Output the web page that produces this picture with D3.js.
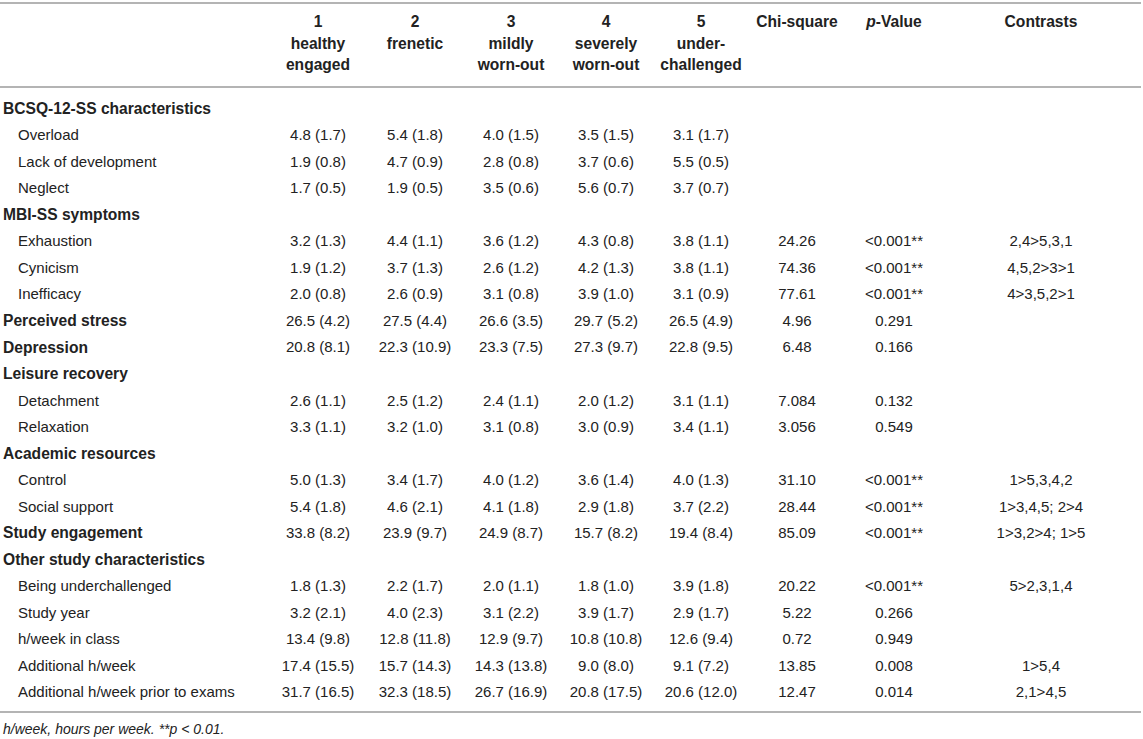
<!DOCTYPE html>
<html>
<head>
<meta charset="utf-8">
<script src="https://cdn.jsdelivr.net/npm/d3@7"></script>
<style>
  html, body { margin: 0; padding: 0; background: #fff; }
  svg { display: block; }
  text { font-family: "Liberation Sans", Arial, Helvetica, sans-serif; fill: #222; }
</style>
</head>
<body>
<svg id="chart" width="1143" height="739"></svg>
<script>
// ---------- data ----------
const rowLabels = ["BCSQ-12-SS characteristics","Overload","Lack of development","Neglect","MBI-SS symptoms","Exhaustion","Cynicism","Inefficacy","Perceived stress","Depression","Leisure recovery","Detachment","Relaxation","Academic resources","Control","Social support","Study engagement","Other study characteristics","Being underchallenged","Study year","h/week in class","Additional h/week","Additional h/week prior to exams"];
// 0 = bold row (section header or top-level variable), 1 = indented sub-row
const rowLevel = [0,1,1,1,0,1,1,1,0,0,0,1,1,0,1,1,0,0,1,1,1,1,1];

const clusterNumbers = ["1","2","3","4","5"];
const clusterNames = [["healthy","engaged"],["frenetic"],["mildly","worn-out"],["severely","worn-out"],["under-","challenged"]];

const mean1 = [null,4.8,1.9,1.7,null,3.2,1.9,2.0,26.5,20.8,null,2.6,3.3,null,5.0,5.4,33.8,null,1.8,3.2,13.4,17.4,31.7];
const sd1   = [null,1.7,0.8,0.5,null,1.3,1.2,0.8,4.2,8.1,null,1.1,1.1,null,1.3,1.8,8.2,null,1.3,2.1,9.8,15.5,16.5];
const mean2 = [null,5.4,4.7,1.9,null,4.4,3.7,2.6,27.5,22.3,null,2.5,3.2,null,3.4,4.6,23.9,null,2.2,4.0,12.8,15.7,32.3];
const sd2   = [null,1.8,0.9,0.5,null,1.1,1.3,0.9,4.4,10.9,null,1.2,1.0,null,1.7,2.1,9.7,null,1.7,2.3,11.8,14.3,18.5];
const mean3 = [null,4.0,2.8,3.5,null,3.6,2.6,3.1,26.6,23.3,null,2.4,3.1,null,4.0,4.1,24.9,null,2.0,3.1,12.9,14.3,26.7];
const sd3   = [null,1.5,0.8,0.6,null,1.2,1.2,0.8,3.5,7.5,null,1.1,0.8,null,1.2,1.8,8.7,null,1.1,2.2,9.7,13.8,16.9];
const mean4 = [null,3.5,3.7,5.6,null,4.3,4.2,3.9,29.7,27.3,null,2.0,3.0,null,3.6,2.9,15.7,null,1.8,3.9,10.8,9.0,20.8];
const sd4   = [null,1.5,0.6,0.7,null,0.8,1.3,1.0,5.2,9.7,null,1.2,0.9,null,1.4,1.8,8.2,null,1.0,1.7,10.8,8.0,17.5];
const mean5 = [null,3.1,5.5,3.7,null,3.8,3.8,3.1,26.5,22.8,null,3.1,3.4,null,4.0,3.7,19.4,null,3.9,2.9,12.6,9.1,20.6];
const sd5   = [null,1.7,0.5,0.7,null,1.1,1.1,0.9,4.9,9.5,null,1.1,1.1,null,1.3,2.2,8.4,null,1.8,1.7,9.4,7.2,12.0];

const chiSquare = ["","","","","","24.26","74.36","77.61","4.96","6.48","","7.084","3.056","","31.10","28.44","85.09","","20.22","5.22","0.72","13.85","12.47"];
const pValue = ["","","","","","<0.001**","<0.001**","<0.001**","0.291","0.166","","0.132","0.549","","<0.001**","<0.001**","<0.001**","","<0.001**","0.266","0.949","0.008","0.014"];
const contrasts = ["","","","","","2,4>5,3,1","4,5,2>3>1","4>3,5,2>1","","","","","","","1>5,3,4,2","1>3,4,5; 2>4","1>3,2>4; 1>5","","5>2,3,1,4","","","1>5,4","2,1>4,5"];

const footnote = "h/week, hours per week. **p < 0.01.";

// ---------- layout ----------
const W = 1143, H = 739;
const svg = d3.select("#chart");
const means = [mean1, mean2, mean3, mean4, mean5];
const sds = [sd1, sd2, sd3, sd4, sd5];
const colKeys = ["c1","c2","c3","c4","c5","chi","p","con"];
const x = d3.scaleOrdinal().domain(colKeys).range([318, 415, 511, 606, 701, 797, 894, 1041]);
const y = d3.scalePoint().domain(d3.range(rowLabels.length)).range([108.5, 692]);
const hy = d3.scalePoint().domain([0,1,2]).range([22, 65]);
const fmt = d3.format(".1f");
const FS = 15, FSB = 15.6;

// rules
const rules = [3, 87, 712];
svg.selectAll("line.rule").data(rules).enter().append("line")
  .attr("class","rule")
  .attr("x1", 0).attr("x2", 1141)
  .attr("y1", d => d).attr("y2", d => d)
  .attr("stroke", "#b4b4b4").attr("stroke-width", 2);

// header
const head = svg.append("g").attr("font-weight", "bold").attr("font-size", FSB).attr("text-anchor", "middle");
clusterNumbers.forEach((n, i) => {
  const lines = [n].concat(clusterNames[i]);
  lines.forEach((t, j) => {
    head.append("text").attr("x", x(colKeys[i])).attr("y", hy(j)).attr("dy", "0.35em").text(t);
  });
});
head.append("text").attr("x", x("chi")).attr("y", hy(0)).attr("dy", "0.35em").text("Chi-square");
const pv = head.append("text").attr("x", x("p")).attr("y", hy(0)).attr("dy", "0.35em");
pv.append("tspan").attr("font-style", "italic").text("p");
pv.append("tspan").text("-Value");
head.append("text").attr("x", x("con")).attr("y", hy(0)).attr("dy", "0.35em").text("Contrasts");

// body rows
const rows = svg.append("g").selectAll("g.row").data(rowLabels).enter().append("g")
  .attr("class", "row")
  .attr("transform", (d, i) => `translate(0,${y(i)})`);

rows.append("text")
  .attr("x", (d, i) => rowLevel[i] === 0 ? 3 : 18)
  .attr("dy", "0.35em")
  .attr("font-size", (d, i) => rowLevel[i] === 0 ? FSB : FS)
  .attr("font-weight", (d, i) => rowLevel[i] === 0 ? "bold" : "normal")
  .text(d => d);

means.forEach((m, c) => {
  rows.filter((d, i) => m[i] !== null)
    .append("text")
    .attr("x", x(colKeys[c]))
    .attr("dy", "0.35em")
    .attr("text-anchor", "middle")
    .attr("font-size", FS)
    .text((d, i, nodes) => {
      const idx = rowLabels.indexOf(d);
      return `${fmt(m[idx])} (${fmt(sds[c][idx])})`;
    });
});

[[chiSquare, "chi"], [pValue, "p"], [contrasts, "con"]].forEach(([arr, key]) => {
  rows.filter((d, i) => arr[i] !== "")
    .append("text")
    .attr("x", x(key))
    .attr("dy", "0.35em")
    .attr("text-anchor", "middle")
    .attr("font-size", FS)
    .text(d => arr[rowLabels.indexOf(d)]);
});

// footnote
svg.append("text")
  .attr("x", 3).attr("y", 729).attr("dy", "0.35em")
  .attr("font-size", 14).attr("font-style", "italic")
  .text(footnote);
</script>
</body>
</html>
